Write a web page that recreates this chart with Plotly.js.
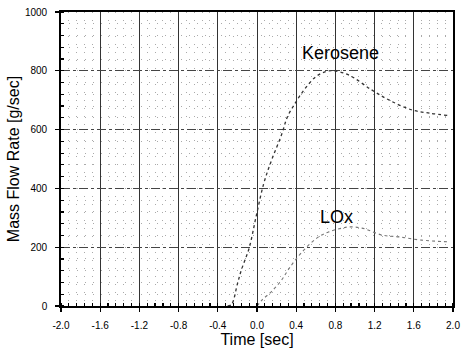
<!DOCTYPE html>
<html><head><meta charset="utf-8">
<script src="https://cdn.plot.ly/plotly-3.0.1.min.js"></script>
<style>html,body{margin:0;padding:0;background:#fff}#chart{width:461px;height:349px}</style>
</head><body><div id="chart"></div>
<script>
const keroseneTime = [-0.30,-0.26,-0.20,-0.16,-0.08,-0.01,0.07,0.15,0.25,0.31,0.39,0.48,0.60,0.70,0.78,0.94,1.17,1.35,1.58,1.76,1.95];
const keroseneFlow = [0,5,75,122,197,303,418,497,582,643,690,735,780,797,800,785,735,700,667,656,648];
const loxTime = [0.00,0.05,0.15,0.25,0.33,0.45,0.61,0.73,0.87,0.94,1.07,1.28,1.45,1.68,1.96];
const loxFlow = [0,20,50,88,129,180,231,252,265,269,265,241,235,224,218];
const xTickVals = [-2.0,-1.6,-1.2,-0.8,-0.4,0.0,0.4,0.8,1.2,1.6,2.0];
const xTickText = ["-2.0","-1.6","-1.2","-0.8","-0.4","0.0","0.4","0.8","1.2","1.6","2.0"];
const yTickVals = [0,200,400,600,800,1000];
const yTickText = ["0","200","400","600","800","1000"];
const labels = [
  {text:"Kerosene", x:0.855, y:862},
  {text:"LOx", x:0.81, y:303}
];

const font = 'Arial, "Liberation Sans", sans-serif';
const traces = [
  {x:keroseneTime, y:keroseneFlow, mode:'lines', line:{color:'#333', width:1.3, dash:'dot', shape:'spline'}, hoverinfo:'skip'},
  {x:loxTime, y:loxFlow, mode:'lines', line:{color:'#777', width:1.1, dash:'dot', shape:'spline'}, hoverinfo:'skip'}
];
const layout = {
  width:461, height:349,
  margin:{l:61, r:8, t:12, b:43},
  paper_bgcolor:'#fff', plot_bgcolor:'#fff',
  showlegend:false,
  font:{family:font, color:'#000', size:10},
  xaxis:{
    range:[-2,2], tickvals:xTickVals, ticktext:xTickText,
    ticks:'outside', ticklen:4, tickcolor:'#000', tickwidth:1.2,
    ticklabelstandoff:5,
    showline:true, linecolor:'#000', linewidth:1.8, mirror:true,
    showgrid:true, gridcolor:'#333', gridwidth:1,
    zeroline:false,
    tickfont:{family:font, size:10, color:'#000'},
    minor:{dtick:0.08, tick0:-2, ticks:'inside', ticklen:3, tickcolor:'#000', showgrid:true, gridcolor:'#aaa', griddash:'1px,7px', gridwidth:1},
    title:{text:'Time [sec]', font:{family:font, size:16, color:'#000'}, standoff:0}
  },
  yaxis:{
    range:[0,1000], tickvals:yTickVals, ticktext:yTickText,
    ticks:'outside', ticklen:4, tickcolor:'#000', tickwidth:1.2,
    ticklabelstandoff:6,
    showline:true, linecolor:'#000', linewidth:1.8, mirror:true,
    showgrid:true, gridcolor:'#444', gridwidth:1, griddash:'dashdot',
    zeroline:false,
    tickfont:{family:font, size:10, color:'#000'},
    minor:{dtick:40, tick0:0, ticks:'inside', ticklen:3, tickcolor:'#000', showgrid:true, gridcolor:'#aaa', griddash:'1px,7px', gridwidth:1},
    title:{text:'Mass Flow Rate [g/sec]', font:{family:font, size:16, color:'#000'}, standoff:1}
  },
  annotations: labels.map(l => ({x:l.x, y:l.y, xref:'x', yref:'y', text:l.text, showarrow:false, font:{family:font, size:18, color:'#000'}}))
};
Plotly.newPlot('chart', traces, layout, {staticPlot:true, displayModeBar:false});
</script></body></html>
